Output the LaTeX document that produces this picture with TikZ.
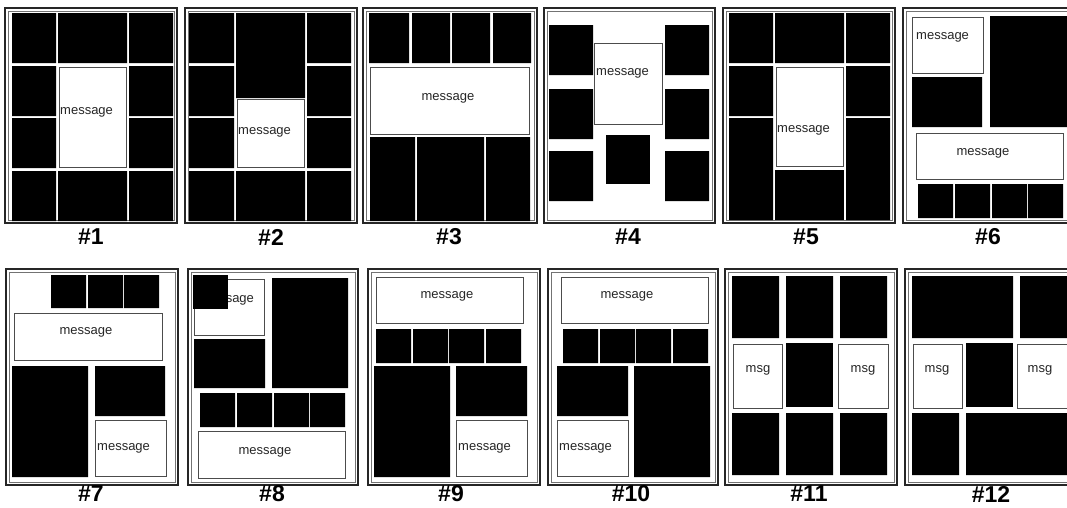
\documentclass[tikz,border=0pt]{standalone}
\usepackage{fontspec}
\setmainfont{Liberation Sans}
\tikzset{
  blk/.style={fill=black},
  msgbox/.style={draw=black!70, line width=0.9pt, fill=white},
  msgtxt/.style={font=\fontsize{13}{15}\selectfont, text=black!85, inner sep=0pt},
  frameout/.style={draw=black!85, line width=2.2pt},
  framein/.style={draw=black!55, line width=0.6pt},
  numlbl/.style={font=\fontsize{23}{26}\selectfont\bfseries, inner sep=0pt},
}
\begin{document}
\begin{tikzpicture}[x=1pt, y=-1pt]
	\useasboundingbox (0,0) rectangle (1067,507);
	\clip (0,0) rectangle (1067,507);
	
	% Frames
	\foreach \xa/\xb/\ya/\yb in {5/177/8/223, 185/357/8/223, 363/537/8/223, 544/715/8/223, 723/895/8/223, 903/1075/8/223, 6/178/269/485, 188/358/269/485, 368/540/269/485, 548/718/269/485, 725/897/269/485, 905/1077/269/485} {
		\draw[frameout] (\xa,\ya) rectangle (\xb,\yb);
		\draw[framein] (\xa+3,\ya+3) rectangle (\xb-3,\yb-3);
	}
	
	% Labels
	\foreach \cx/\cy/\n in {91/237/1, 271/237/2, 449/237/3, 628/237/4, 806/237/5, 988/237/6, 91/494/7, 272/494/8, 451/494/9, 631/494/10, 809/494/11, 991/494/12}
		\node[numlbl] (lbl\n) at (\cx,\cy) {\#\n};
	
	% #1
	\fill[blk] (12,13) rectangle (56,63) (58,13) rectangle (127,63) (129,13) rectangle (173,63);
	\fill[blk] (12,66) rectangle (56,116) (129,66) rectangle (173,116);
	\fill[blk] (12,118) rectangle (56,168) (129,118) rectangle (173,168);
	\fill[blk] (12,171) rectangle (56,221) (58,171) rectangle (127,221) (129,171) rectangle (173,221);
	\draw[msgbox] (59,67) rectangle (126,167);
	\node[msgtxt, anchor=west] (msg1) at (60,112) {message};
	
	% #2
	\fill[blk] (189,13) rectangle (234,63) (236,13) rectangle (305,98) (307,13) rectangle (351,63);
	\fill[blk] (189,66) rectangle (234,116) (307,66) rectangle (351,116);
	\fill[blk] (189,118) rectangle (234,168) (307,118) rectangle (351,168);
	\fill[blk] (189,171) rectangle (234,221) (236,171) rectangle (305,221) (307,171) rectangle (351,221);
	\draw[msgbox] (237,99) rectangle (304,167);
	\node[msgtxt, anchor=west] (msg2) at (238,132) {message};
	
	% #3
	\fill[blk] (369,13) rectangle (409,63) (412,13) rectangle (450,63) (452,13) rectangle (490,63) (493,13) rectangle (531,63);
	\draw[msgbox] (370,67) rectangle (529,134);
	\node[msgtxt] (msg3) at (448,98) {message};
	\fill[blk] (370,137) rectangle (415,221) (417,137) rectangle (484,221) (486,137) rectangle (530,221);
	
	% #4
	\fill[blk] (549,25) rectangle (593,75) (549,89) rectangle (593,139) (549,151) rectangle (593,201);
	\fill[blk] (665,25) rectangle (709,75) (665,89) rectangle (709,139) (665,151) rectangle (709,201);
	\fill[blk] (606,135) rectangle (650,184);
	\draw[msgbox] (594,43) rectangle (662,124);
	\node[msgtxt, anchor=west] (msg4) at (596,73) {message};
	
	% #5
	\fill[blk] (729,13) rectangle (773,63) (775,13) rectangle (844,63) (846,13) rectangle (890,63);
	\fill[blk] (729,66) rectangle (773,116) (846,66) rectangle (890,116);
	\fill[blk] (729,118) rectangle (773,220) (846,118) rectangle (890,220);
	\fill[blk] (775,170) rectangle (844,220);
	\draw[msgbox] (776,67) rectangle (843,166);
	\node[msgtxt, anchor=west] (msg5) at (777,130) {message};
	
	% #6
	\draw[msgbox] (912,17) rectangle (983,73);
	\node[msgtxt, anchor=west] (msg6a) at (916,37) {message};
	\fill[blk] (912,77) rectangle (982,127) (990,16) rectangle (1070,127);
	\draw[msgbox] (916,133) rectangle (1063,179);
	\node[msgtxt] (msg6b) at (983,153) {message};
	\fill[blk] (918,184) rectangle (953,218) (955,184) rectangle (990,218) (992,184) rectangle (1027,218) (1028,184) rectangle (1063,218);
	
	% #7
	\fill[blk] (51,275) rectangle (86,308) (88,275) rectangle (123,308) (124,275) rectangle (159,308);
	\draw[msgbox] (14,313) rectangle (162,360);
	\node[msgtxt] (msg7a) at (86,332) {message};
	\fill[blk] (12,366) rectangle (88,477) (95,366) rectangle (165,416);
	\draw[msgbox] (95,420) rectangle (166,476);
	\node[msgtxt, anchor=west] (msg7b) at (97,448) {message};
	
	% #8
	\draw[msgbox] (194,279) rectangle (264,335);
	\node[msgtxt, anchor=west] (msg8a) at (201,300) {message};
	\fill[blk] (193,275) rectangle (228,309);
	\fill[blk] (194,339) rectangle (265,388) (272,278) rectangle (348,388);
	\fill[blk] (200,393) rectangle (235,427) (237,393) rectangle (272,427) (274,393) rectangle (309,427) (310,393) rectangle (345,427);
	\draw[msgbox] (198,431) rectangle (345,478);
	\node[msgtxt] (msg8b) at (265,452) {message};
	
	% #9
	\draw[msgbox] (376,277) rectangle (523,323);
	\node[msgtxt] (msg9a) at (447,296) {message};
	\fill[blk] (376,329) rectangle (411,363) (413,329) rectangle (448,363) (449,329) rectangle (484,363) (486,329) rectangle (521,363);
	\fill[blk] (374,366) rectangle (450,477) (456,366) rectangle (527,416);
	\draw[msgbox] (456,420) rectangle (527,476);
	\node[msgtxt, anchor=west] (msg9b) at (458,448) {message};
	
	% #10
	\draw[msgbox] (561,277) rectangle (708,323);
	\node[msgtxt] (msg10a) at (627,296) {message};
	\fill[blk] (563,329) rectangle (598,363) (600,329) rectangle (635,363) (636,329) rectangle (671,363) (673,329) rectangle (708,363);
	\fill[blk] (557,366) rectangle (628,416) (634,366) rectangle (710,477);
	\draw[msgbox] (557,420) rectangle (628,476);
	\node[msgtxt, anchor=west] (msg10b) at (559,448) {message};
	
	% #11
	\fill[blk] (732,276) rectangle (779,338) (786,276) rectangle (833,338) (840,276) rectangle (887,338);
	\draw[msgbox] (733,344) rectangle (782,408);
	\node[msgtxt] (msg11a) at (758,370) {msg};
	\fill[blk] (786,343) rectangle (833,407);
	\draw[msgbox] (838,344) rectangle (888,408);
	\node[msgtxt] (msg11b) at (863,370) {msg};
	\fill[blk] (732,413) rectangle (779,475) (786,413) rectangle (833,475) (840,413) rectangle (887,475);
	
	% #12
	\fill[blk] (912,276) rectangle (1013,338) (1020,276) rectangle (1070,338);
	\draw[msgbox] (913,344) rectangle (962,408);
	\node[msgtxt] (msg12a) at (937,370) {msg};
	\fill[blk] (966,343) rectangle (1013,407);
	\draw[msgbox] (1017,344) rectangle (1067,408);
	\node[msgtxt] (msg12b) at (1040,370) {msg};
	\fill[blk] (912,413) rectangle (959,475) (966,413) rectangle (1070,475);
\end{tikzpicture}
\end{document}
